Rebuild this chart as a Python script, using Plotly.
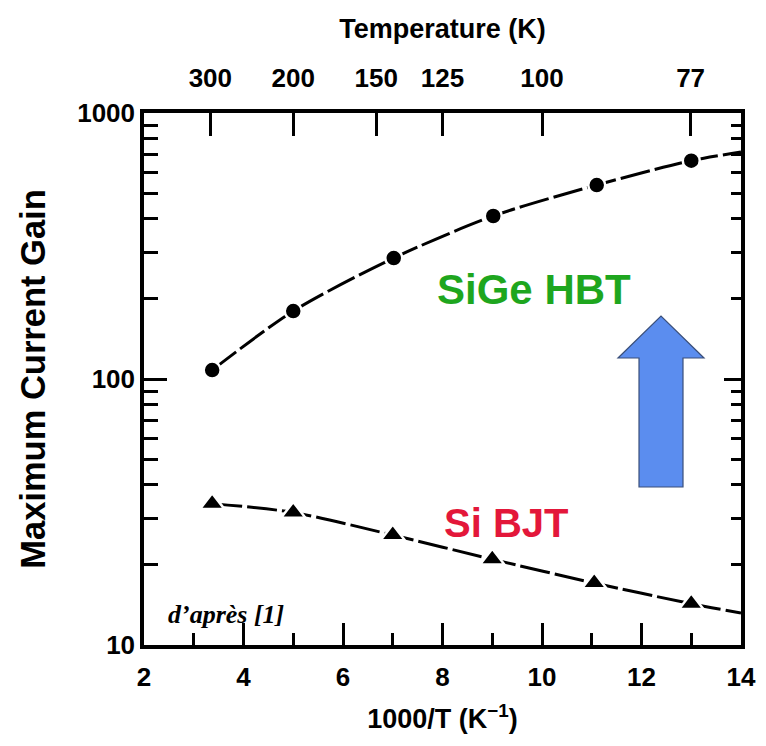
import plotly.graph_objects as go

# ---- data ----
inv_T_sige = [3.37, 5.0, 7.02, 9.02, 11.1, 13.0]
gain_sige = [108, 180, 285, 410, 536, 662]
sige_line_x = [3.37, 5.0, 7.02, 9.02, 11.1, 13.0, 14.0]
sige_line_y = [108, 180, 285, 410, 536, 662, 713]

inv_T_si = [3.37, 5.0, 7.0, 9.0, 11.05, 13.0]
gain_si = [34.0, 31.5, 25.9, 21.0, 17.1, 14.3]
si_line_x = [3.37, 5.0, 7.0, 9.0, 11.05, 13.0, 14.0]
si_line_y = [34.0, 31.5, 25.9, 21.0, 17.1, 14.3, 13.2]

temps_K = [300, 200, 150, 125, 100, 77]
temp_pos = [1000.0 / t for t in temps_K]
temp_labels = [str(t) for t in temps_K]

x_ticks = [2, 4, 6, 8, 10, 12, 14]
x_minor = [3, 5, 7, 9, 11, 13]
y_major = [10, 100, 1000]
y_minor = [20, 30, 40, 50, 60, 70, 80, 90, 200, 300, 400, 500, 600, 700, 800, 900]

SANS = "Liberation Sans, Arial, Helvetica, sans-serif"
TICKF = dict(family=SANS, size=26, color="black", weight="bold")

# page body has an 8px margin: figure sits at (8, 8) in the window
OFF = 8
W, H = 766 - OFF, 746 - OFF
ML, MT = 144 - OFF, 113 - OFF
MR, MB = 25, 101

fig = go.Figure()

dash = "30px,5px"
fig.add_trace(go.Scatter(x=sige_line_x, y=sige_line_y, mode="lines",
                         line=dict(color="black", width=3, dash=dash, shape="spline", smoothing=0.8),
                         hoverinfo="skip", showlegend=False))
fig.add_trace(go.Scatter(x=si_line_x, y=si_line_y, mode="lines",
                         line=dict(color="black", width=3, dash=dash, shape="spline", smoothing=0.8),
                         hoverinfo="skip", showlegend=False))
fig.add_trace(go.Scatter(x=inv_T_sige, y=gain_sige, mode="markers", name="SiGe HBT",
                         marker=dict(symbol="circle", size=17, color="black",
                                     line=dict(color="white", width=2.5)),
                         showlegend=False))
fig.add_trace(go.Scatter(x=inv_T_si, y=gain_si, mode="markers", name="Si BJT",
                         marker=dict(symbol="triangle-up", size=21, color="black",
                                     line=dict(color="white", width=2.5)),
                         showlegend=False))
# invisible traces to anchor top and right axes
fig.add_trace(go.Scatter(x=[2, 14], y=[10, 1000], xaxis="x2", yaxis="y", mode="markers",
                         marker=dict(opacity=0), hoverinfo="skip", showlegend=False))
fig.add_trace(go.Scatter(x=[2, 14], y=[10, 1000], xaxis="x", yaxis="y2", mode="markers",
                         marker=dict(opacity=0), hoverinfo="skip", showlegend=False))

fig.update_layout(
    width=W, height=H,
    margin=dict(l=ML, r=MR, t=MT, b=MB),
    paper_bgcolor="white", plot_bgcolor="white",
    xaxis=dict(range=[2, 14], tickvals=x_ticks, ticks="inside", ticklen=22, tickwidth=2.5,
               tickcolor="black", showline=True, linecolor="black", linewidth=3.5, mirror=True,
               showgrid=False, zeroline=False, automargin=False, ticklabelstandoff=6,
               minor=dict(tickvals=x_minor, ticks="inside", ticklen=12, tickwidth=2.5, tickcolor="black"),
               tickfont=TICKF,
               title=dict(text="1000/T (K<sup>−1</sup>)",
                          font=dict(family=SANS, size=27, color="black", weight="bold"),
                          standoff=19)),
    xaxis2=dict(range=[2, 14], overlaying="x", side="top", anchor="y", tickvals=temp_pos,
                ticktext=temp_labels, ticks="inside", ticklen=23, tickwidth=2.5, tickcolor="black",
                showline=False, showgrid=False, zeroline=False, automargin=False,
                ticklabelstandoff=20, tickfont=TICKF,
                title=dict(text="Temperature (K)",
                           font=dict(family=SANS, size=27, color="black", weight="bold"),
                           standoff=16)),
    yaxis=dict(type="log", range=[1, 3], tickvals=y_major, ticktext=["10", "100", "1000"],
               ticks="inside", ticklen=23, tickwidth=2.5, tickcolor="black",
               showline=True, linecolor="black", linewidth=3.5, mirror=True,
               showgrid=False, zeroline=False, automargin=False,
               minor=dict(tickvals=y_minor, ticks="inside", ticklen=14, tickwidth=2.5, tickcolor="black"),
               tickfont=TICKF,
               title=dict(text="Maximum Current Gain",
                          font=dict(family=SANS, size=34.5, color="black", weight="bold"),
                          standoff=22)),
    yaxis2=dict(type="log", range=[1, 3], overlaying="y", side="right", anchor="x",
                tickvals=y_major, ticks="inside", ticklen=17, tickwidth=2.5, tickcolor="black",
                showticklabels=False, showline=False, showgrid=False, zeroline=False,
                automargin=False,
                minor=dict(tickvals=y_minor, ticks="inside", ticklen=10, tickwidth=2.5, tickcolor="black")),
)

# text annotations
fig.add_annotation(x=9.84, y=2.338, xref="x", yref="y", text="SiGe HBT", showarrow=False,
                   font=dict(family=SANS, size=42, color="#1ea61e", weight="bold"))
fig.add_annotation(x=9.28, y=1.459, xref="x", yref="y", text="Si BJT", showarrow=False,
                   font=dict(family=SANS, size=40, color="#e3173a", weight="bold"))
fig.add_annotation(x=3.65, y=1.113, xref="x", yref="y", text="d’après [1]", showarrow=False,
                   font=dict(family="Liberation Serif, Times New Roman, serif", size=26,
                             color="black", style="italic", weight="bold"))

# blue arrow (decoration) in paper coords from window-pixel positions
pw, ph = W - ML - MR, H - MT - MB
def px(x): return (x - OFF - ML) / pw
def py(y): return 1 - (y - OFF - MT) / ph
pts = [(639, 487), (639, 358), (618, 358), (661, 316), (704, 358), (683, 358), (683, 487)]
path = "M " + " L ".join(f"{px(a):.5f},{py(b):.5f}" for a, b in pts) + " Z"
fig.add_shape(type="path", path=path, xref="paper", yref="paper",
              fillcolor="#5b8def", line=dict(color="#3a4f7a", width=1.2), layer="above")

fig.write_html("out.html")
